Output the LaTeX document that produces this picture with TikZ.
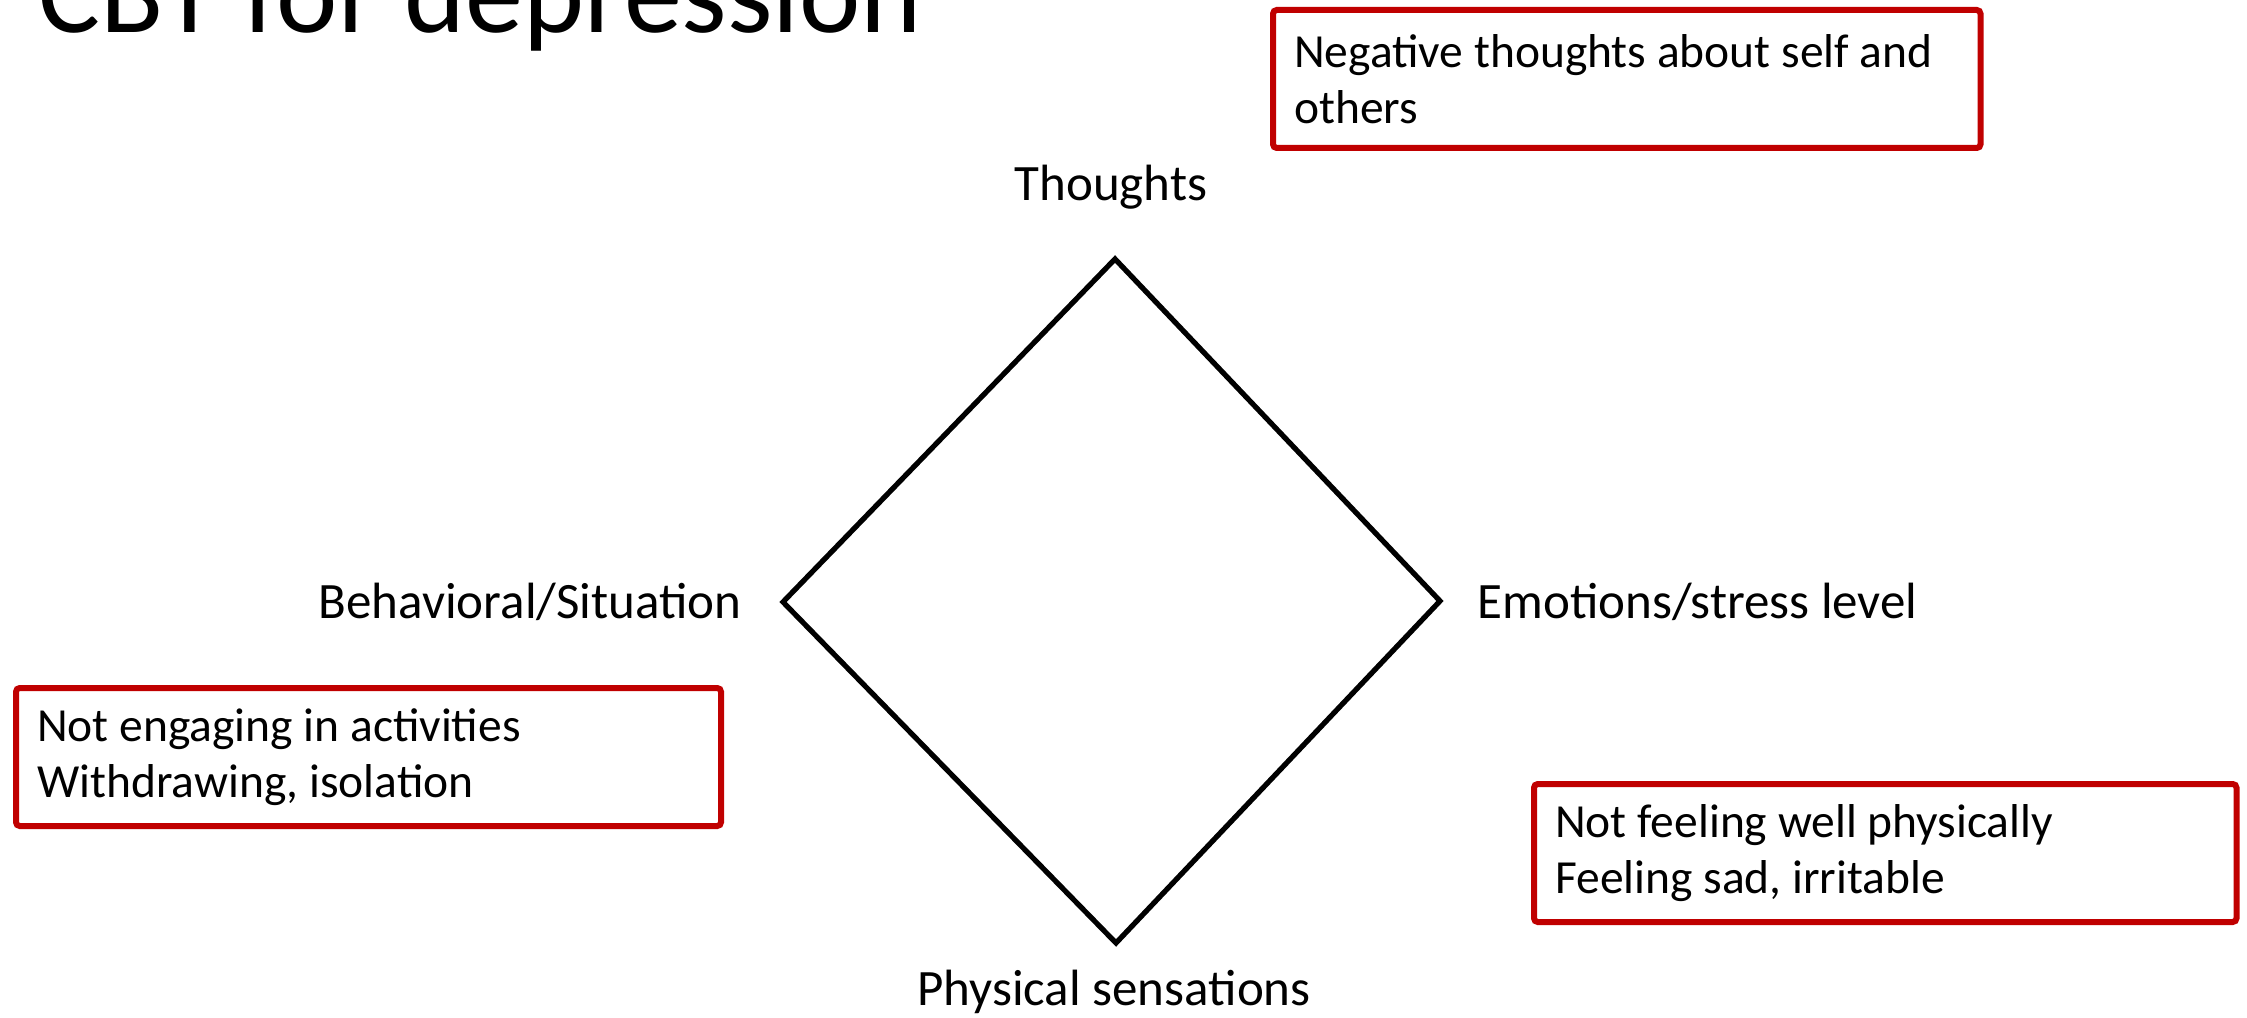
\documentclass[tikz,border=0pt]{standalone}
\usepackage{fontspec}
\setmainfont{Carlito}
\definecolor{boxred}{HTML}{C00000}
\begin{document}
\begin{tikzpicture}[x=0.4pt,y=-0.4pt,
  label/.style={font=\fontsize{20.4}{24}\selectfont, inner sep=0pt},
  notebox/.style={draw=boxred, line width=2.4pt, rounded corners=1.5pt,
    fill=white, anchor=north west, align=flush left, inner xsep=8.5pt, inner ysep=0pt,
    font=\fontsize{19}{22.4}\selectfont},
  diamondline/.style={line width=2.1pt, line join=miter}]
  \clip (0,0) rectangle (2247,1018);
  \fill[white] (0,0) rectangle (2247,1018);

  % heading, partly cut by the top edge
  \node[anchor=base west, inner sep=0pt, font=\fontsize{46.5}{50}\selectfont]
    (title) at (38,33) {CBT for depression};

  % the four corners of the cycle
  \coordinate (top) at (1115,259);
  \coordinate (right) at (1440,601);
  \coordinate (bottom) at (1116,943);
  \coordinate (left) at (783,602);
  \draw[diamondline] (top) -- (right) -- (bottom) -- (left) -- cycle;

  % corner labels
  \node[label, anchor=base] (thoughts) at (1111,201) {Thoughts};
  \node[label, anchor=base west] (emotions) at (1477,619) {Emotions/stress level};
  \node[label, anchor=base east] (behav) at (742,619) {Behavioral/Situation};
  \node[label, anchor=base] (physical) at (1114,1005) {Physical sensations};

  % example notes
  \node[notebox, text width=266pt, minimum height=55.2pt] (notethoughts) at (1270,7)
    {Negative thoughts about self and\\others};
  \node[notebox, text width=265pt, minimum height=55.2pt] (notebehav) at (13,685)
    {Not engaging in activities\\Withdrawing, isolation};
  \node[notebox, text width=264pt, minimum height=55.2pt] (notephys) at (1531,781)
    {Not feeling well physically\\Feeling sad, irritable};
\end{tikzpicture}
\end{document}
